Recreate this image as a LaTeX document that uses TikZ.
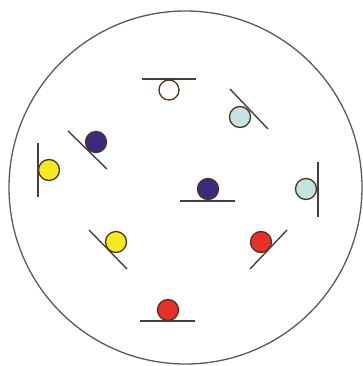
\documentclass[tikz,border=0pt]{standalone}
\begin{document}
\begin{tikzpicture}[x=1pt,y=-1pt,
  bar/.style={draw=black!75, line width=1.4pt},
  ball/.style={draw=black!60!brown, line width=1.3pt},
  rim/.style={draw=black!65, line width=1.3pt}]
\useasboundingbox (0,0) rectangle (363,366);
\definecolor{indigo}{HTML}{3B2A80}
\definecolor{ylw}{HTML}{F5EA1E}
\definecolor{cyn}{HTML}{C2E4E2}
\definecolor{rd}{HTML}{E8302A}
\draw[rim] (185.5,187.5) circle[radius=176.5];
% top white
\draw[bar] (142,79) -- (196,79);
\draw[ball,fill=white] (169,90) circle[radius=10];
% top right cyan
\draw[ball,fill=cyn] (240,117) circle[radius=10.5];
\draw[bar] (230,89) -- (268,129);
% upper left indigo
\draw[ball,fill=indigo] (96,142) circle[radius=10.5];
\draw[bar] (68,131) -- (107,169);
% left yellow
\draw[ball,fill=ylw] (49,170) circle[radius=10.5];
\draw[bar] (38,143) -- (38,197);
% centre indigo
\draw[ball,fill=indigo] (208,189) circle[radius=10.5];
\draw[bar] (180,201) -- (235,201);
% right cyan
\draw[ball,fill=cyn] (306,189) circle[radius=10.5];
\draw[bar] (318,162) -- (318,217);
% lower left yellow
\draw[ball,fill=ylw] (116,242) circle[radius=10.5];
\draw[bar] (89,230) -- (127,269);
% lower right red
\draw[ball,fill=rd] (261,242) circle[radius=10.5];
\draw[bar] (287,230) -- (250,269);
% bottom red
\draw[ball,fill=rd] (168,310) circle[radius=10.5];
\draw[bar] (140,321) -- (195,321);
\end{tikzpicture}
\end{document}
